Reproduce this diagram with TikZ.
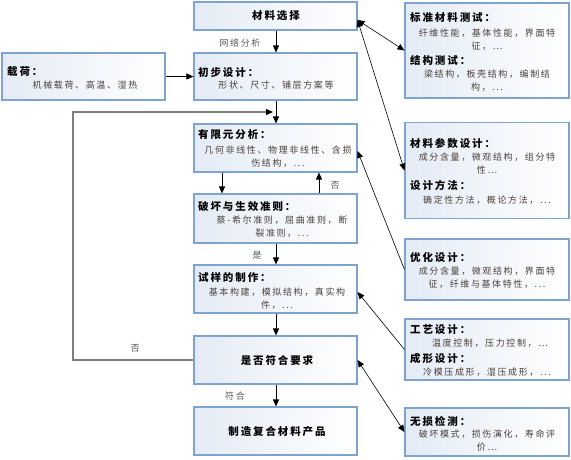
\documentclass[tikz,border=0pt]{standalone}
\usepackage{fontspec}
\usetikzlibrary{arrows.meta,calc}
\setmainfont{Noto Sans CJK SC}
\newfontfamily\cjk[LetterSpace=18]{Noto Sans CJK SC}
\definecolor{bord}{HTML}{7EA3CF}
\definecolor{fillL}{HTML}{E4EBF5}
\definecolor{bodyc}{HTML}{4A403A}
\definecolor{loopc}{HTML}{7F7F7F}
\definecolor{lblc}{HTML}{5A5A5A}
\tikzset{
  box/.style={rectangle, draw=bord, line width=1.1pt, left color=fillL, right color=white, minimum width=163pt, inner sep=0pt},
  rbox/.style={box, minimum width=164pt},
  ttl/.style={font=\cjk\bfseries\fontsize{10.5}{13}\selectfont, anchor=west, inner sep=0pt},
  ttlc/.style={font=\cjk\bfseries\fontsize{10.5}{13}\selectfont, anchor=center, inner sep=0pt},
  body/.style={font=\cjk\fontsize{9}{13}\selectfont, text=bodyc, align=center, inner sep=0pt},
  lbl/.style={font=\cjk\fontsize{9}{11}\selectfont, text=lblc, inner sep=0pt},
  arr/.style={-{Triangle[length=7pt,width=6pt]}, line width=0.9pt},
  sarr/.style={-{Triangle[length=7pt,width=6pt]}, line width=0.6pt},
  dbl/.style={{Triangle[length=7pt,width=6pt]}-{Triangle[length=7pt,width=6pt]}, line width=0.6pt},
  looparr/.style={-{Triangle[length=7pt,width=6pt,color=black]}, draw=loopc, line width=1.4pt}
}
\begin{document}
\begin{tikzpicture}[x=1pt,y=-1pt]
\useasboundingbox (0,0) rectangle (571,459);
\fill[white] (0,0) rectangle (571,459);
% left column boxes
\node[box, minimum height=28pt] (A) at (275.5,16) {};
\node[box, minimum height=47pt] (B) at (275.5,76.5) {};
\node[box, minimum height=47pt] (L) at (83.5,76.5) {};
\node[box, minimum height=48pt] (C) at (275.5,148) {};
\node[box, minimum height=49pt] (D) at (275.5,218.5) {};
\node[box, minimum height=48pt] (E) at (275.5,289) {};
\node[box, minimum height=48pt] (F) at (275.5,360) {};
\node[box, minimum height=48pt] (G) at (275.5,431) {};
% right column boxes
\node[rbox, minimum height=95pt] (R1) at (487,50.5) {};
\node[rbox, minimum height=96pt] (R2) at (487,170.5) {};
\node[rbox, minimum height=61pt] (R3) at (487,269.5) {};
\node[rbox, minimum height=61pt] (R4) at (487,349.5) {};
\node[rbox, minimum height=48pt] (R5) at (487,432) {};
% texts
\node[ttlc] (At) at (276,16) {材料选择};
\node[ttl] (Bt) at (198,72) {初步设计：};
\node[body] (Bb) at (276,85) {形状、尺寸、铺层方案等};
\node[ttl] (Lt) at (7,72) {载荷：};
\node[body] (Lb) at (85,85) {机械载荷、高温、湿热};
\node[ttl] (Ct) at (198,135) {有限元分析：};
\node[body] (Cb) at (278,156.5) {几何非线性、物理非线性、含损\\伤结构，...};
\node[ttl] (Dt) at (198,207) {破坏与生效准则：};
\node[body] (Db) at (282,226.5) {蔡-希尔准则，屈曲准则，断\\裂准则，...};
\node[ttl] (Et) at (198,277) {试样的制作：};
\node[body] (Eb) at (277,298.5) {基本构建，模拟结构，真实构\\件，...};
\node[ttlc] (Ft) at (277,360) {是否符合要求};
\node[ttlc] (Gt) at (277,432) {制造复合材料产品};
\node[ttl] (R1t) at (410,18) {标准材料测试：};
\node[body] (R1b) at (487,39.5) {纤维性能，基体性能，界面特\\征，…};
\node[ttl] (R1t2) at (410,60) {结构测试：};
\node[body] (R1b2) at (487,80.5) {梁结构，板壳结构，编制结\\构，...};
\node[ttl] (R2t) at (410,143) {材料参数设计：};
\node[body] (R2b) at (487,163.5) {成分含量，微观结构，组分特\\性…};
\node[ttl] (R2t2) at (410,185) {设计方法：};
\node[body] (R2b2) at (487,200) {确定性方法，概论方法，...};
\node[ttl] (R3t) at (410,257) {优化设计：};
\node[body] (R3b) at (487,278) {成分含量，微观结构，界面特\\征，纤维与基体特性，...};
\node[ttl] (R4t) at (410,330) {工艺设计：};
\node[body] (R4b) at (490,343) {温度控制，压力控制，…};
\node[ttl] (R4t2) at (410,358) {成形设计：};
\node[body] (R4b2) at (487,372) {冷模压成形，湿压成形，...};
\node[ttl] (R5t) at (410,421) {无损检测：};
\node[body] (R5b) at (487,441) {破坏模式，损伤演化，寿命评\\价…};
% labels
\node[lbl] (l1) at (240,43) {网络分析};
\node[lbl] (l2) at (335,185) {否};
\node[lbl] (l3) at (257,255) {是};
\node[lbl] (l4) at (235,396) {符合};
\node[lbl] (l5) at (135,348) {否};
% helper coordinates
\coordinate (xm) at (276,0);
\coordinate (xl) at (222,0);
\coordinate (xr) at (319,0);
\coordinate (lp1) at (73,112);
\coordinate (lpe) at (273,112);
% main flow
\draw[arr] (A.south -| xm) -- (B.north -| xm);
\draw[arr] (L.east) -- (B.west);
\draw[arr] (B.south -| xm) -- (C.north -| xm);
\draw[arr] (C.south -| xl) -- (D.north -| xl);
\draw[arr] (D.north -| xr) -- (C.south -| xr);
\draw[arr] (D.south -| xm) -- (E.north -| xm);
\draw[arr] (E.south -| xm) -- (F.north -| xm);
\draw[arr] (F.south -| xm) -- (G.north -| xm);
\draw[looparr] (F.west) -| (lp1) -- (lpe);
% right connectors
\draw[dbl] ([yshift=-4pt]A.east) -- (R1.west);
\draw[dbl] ([yshift=-4pt]A.east) -- (R2.west);
\draw[sarr] (R3.west) -- ([yshift=-3pt]C.east);
\draw[sarr] (R4.west) -- ([yshift=-3pt]E.east);
\draw[dbl] (F.east) -- (R5.west);
\end{tikzpicture}
\end{document}
